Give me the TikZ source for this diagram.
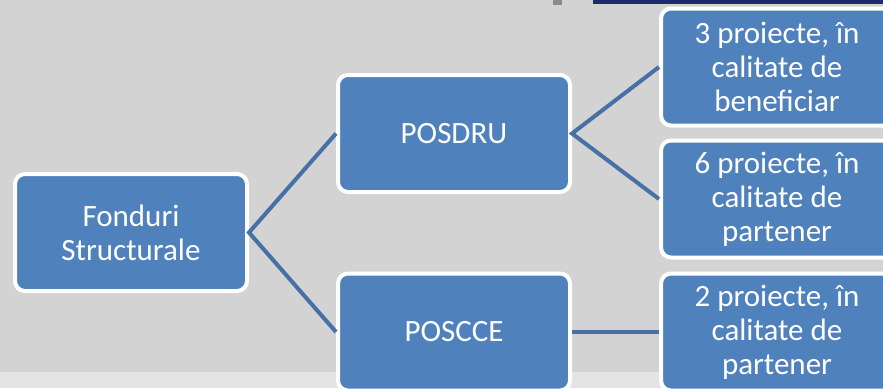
\documentclass[tikz,border=0pt]{standalone}
\usepackage{fontspec}
\setmainfont{Carlito}
\definecolor{bg}{HTML}{D3D3D3}
\definecolor{bgstrip}{HTML}{E4E4E4}
\definecolor{boxfill}{HTML}{4F81BD}
\definecolor{linkcol}{HTML}{4670A6}
\definecolor{topbar}{HTML}{1F2A6E}
\definecolor{markgray}{HTML}{8A8A8A}
\tikzset{
  box/.style={rectangle, rounded corners=10pt, fill=boxfill, draw=white, line width=4pt,
    minimum width=232pt, minimum height=117pt, inner sep=0pt, align=center,
    text=white, font=\fontsize{31}{34}\selectfont},
  link/.style={draw=linkcol, line width=4pt}
}
\begin{document}
\begin{tikzpicture}[x=1pt,y=-1pt]
\useasboundingbox (0,0) rectangle (883,388);
\clip (0,0) rectangle (883,388);
\fill[bg] (0,0) rectangle (883,388);
\fill[bgstrip] (0,372) rectangle (883,388);
\fill[topbar] (593,0) rectangle (883,4);
\fill[markgray] (553,0) rectangle (562,5);
\node[box] (fs) at (131,232.5) {Fonduri\\Structurale};
\node[box] (posdru) at (454,133.5) {POSDRU};
\node[box] (poscce) at (454,332) {POSCCE};
\node[box] (p3) at (777,67) {3 proiecte, în\\calitate de\\beneficiar};
\node[box] (p6) at (777,199) {6 proiecte, în\\calitate de\\partener};
\node[box] (p2) at (777,332) {2 proiecte, în\\calitate de\\partener};
\draw[link] (posdru.west) -- (fs.east) -- (poscce.west);
\draw[link] (p3.west) -- (posdru.east) -- (p6.west);
\draw[link] (poscce.east) -- (p2.west);
\end{tikzpicture}
\end{document}
